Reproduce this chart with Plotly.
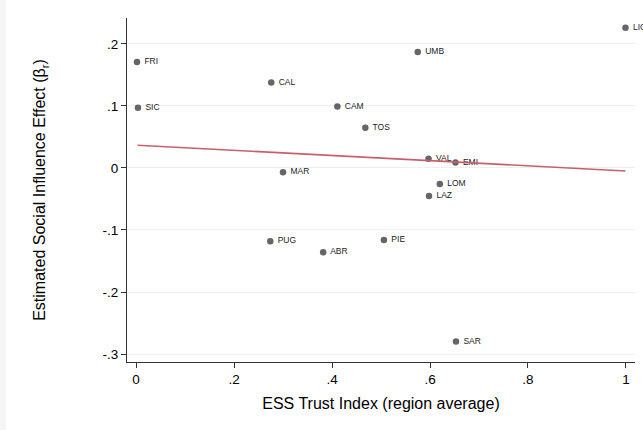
import plotly.graph_objects as go

regions = ["FRI", "SIC", "CAL", "CAM", "TOS", "MAR", "UMB", "LIG", "VAL", "EMI",
           "LOM", "LAZ", "PUG", "ABR", "PIE", "SAR"]
trust = [0.002, 0.004, 0.276, 0.411, 0.468, 0.300, 0.575, 0.999, 0.597, 0.652,
         0.620, 0.598, 0.274, 0.382, 0.506, 0.653]
effect = [0.171, 0.097, 0.138, 0.099, 0.065, -0.007, 0.187, 0.226, 0.015, 0.009,
          -0.026, -0.045, -0.118, -0.136, -0.116, -0.280]

fit_x = [0.003, 0.999]
fit_y = [0.0366, -0.0048]

x_ticks = [0, 0.2, 0.4, 0.6, 0.8, 1.0]
x_labels = ["0", ".2", ".4", ".6", ".8", "1"]
y_ticks = [-0.3, -0.2, -0.1, 0, 0.1, 0.2]
y_labels = ["-.3", "-.2", "-.1", "0", ".1", ".2"]

FONT = "Liberation Sans, Arial, Helvetica, sans-serif"

fig = go.Figure()
fig.add_trace(go.Scatter(
    x=trust, y=effect, mode="markers+text", text=[" " + r for r in regions],
    textposition="middle right",
    textfont=dict(size=8.5, color="#222222", family=FONT),
    marker=dict(size=6.5, color="#666666"),
    cliponaxis=False, showlegend=False, hoverinfo="skip"))
fig.add_trace(go.Scatter(
    x=fit_x, y=fit_y, mode="lines",
    line=dict(color="#c8606c", width=1.6),
    showlegend=False, hoverinfo="skip"))

L, R, T, B = 127, 8, 18, 68
W, H = 643, 430
pw, ph = W - L - R, H - T - B

fig.update_layout(
    width=W, height=H,
    margin=dict(l=L, r=R, t=T, b=B, pad=0),
    paper_bgcolor="white", plot_bgcolor="white",
    font=dict(family=FONT, color="#000000"),
    xaxis=dict(range=[-0.0184, 1.0184], tickvals=x_ticks, ticktext=x_labels,
               showgrid=False, zeroline=False, showline=True,
               linecolor="#333333", linewidth=1, ticks="outside", ticklen=5,
               tickcolor="#333333", tickfont=dict(size=13.5),
               title=dict(text="ESS Trust Index (region average)",
                          font=dict(size=16), standoff=11)),
    yaxis=dict(range=[-0.3129, 0.2419], tickvals=y_ticks, ticktext=y_labels,
               showgrid=True, gridcolor="#efefef", gridwidth=1, zeroline=False,
               showline=True, linecolor="#333333", linewidth=1,
               ticks="outside", ticklen=5, tickcolor="#333333",
               tickfont=dict(size=13.5),
               title=dict(text="Estimated Social Influence Effect (β<sub>r</sub>)",
                          font=dict(size=16), standoff=52)),
    shapes=[
        dict(type="rect", xref="paper", yref="paper", layer="below",
             x0=-L / pw, x1=(6 - L) / pw, y0=-B / ph, y1=(H - T) / ph,
             fillcolor="#f5f5f5", line=dict(width=0)),
        dict(type="rect", xref="paper", yref="paper", layer="below",
             x0=-L / pw, x1=(W - L) / pw, y0=(H - T - 3) / ph, y1=(H - T) / ph,
             fillcolor="#f5f5f5", line=dict(width=0)),
    ],
)

fig.write_html("out.html")
